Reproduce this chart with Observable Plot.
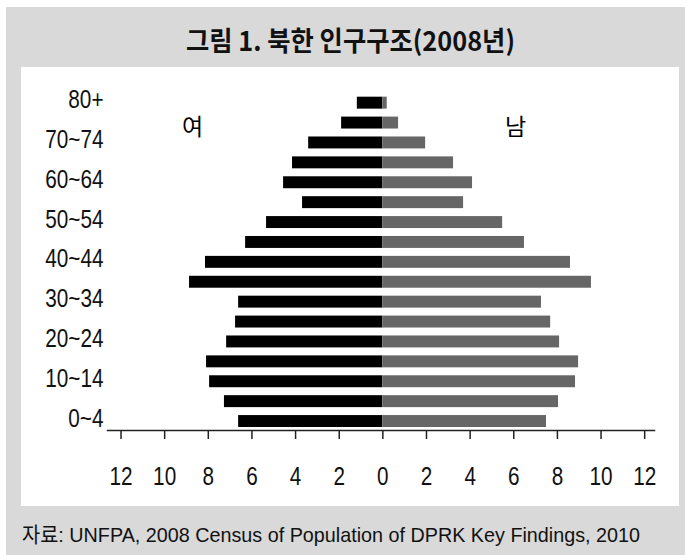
<!DOCTYPE html>
<html><head><meta charset="utf-8">
<script src="https://cdn.jsdelivr.net/npm/d3@7"></script>
<script src="https://cdn.jsdelivr.net/npm/@observablehq/plot@0.6"></script>
<style>
html,body{margin:0;padding:0;background:#fff;}
body{width:685px;height:555px;position:relative;overflow:hidden;font-family:"Liberation Sans",Arial,sans-serif;}
#box{position:absolute;left:6px;top:7px;width:679px;height:548px;background:#d9d9d9;}
#title{position:absolute;left:186px;top:23px;white-space:nowrap;font-family:"Noto Sans CJK KR",sans-serif;font-weight:bold;font-size:27px;line-height:34px;color:#111;transform-origin:left center;}
#panel{position:absolute;left:21px;top:67px;width:658px;height:439px;background:#fff;}
#panel svg{display:block;}
#caption{position:absolute;left:22px;top:520px;white-space:nowrap;font-size:21px;line-height:26px;color:#111;transform-origin:left center;}
#caption .ko{font-family:"Noto Sans CJK KR",sans-serif;}
</style>
</head><body>
<div id="box"></div>
<div id="title">그림 1. 북한 인구구조(2008년)</div>
<div id="panel"></div>
<div id="caption"><span class="ko">자료</span>: UNFPA, 2008 Census of Population of DPRK Key Findings, 2010</div>
<script>
// Age groups (bottom to top)
const ages = ["0~4","5~9","10~14","15~19","20~24","25~29","30~34","35~39","40~44","45~49","50~54","55~59","60~64","65~69","70~74","75~79","80+"];
// Female (여) share, %
const female = [6.61, 7.26, 7.94, 8.08, 7.16, 6.75, 6.61, 8.86, 8.13, 6.29, 5.33, 3.68, 4.55, 4.14, 3.40, 1.89, 1.17];
// Male (남) share, %
const male = [7.50, 8.05, 8.83, 8.97, 8.10, 7.69, 7.27, 9.56, 8.60, 6.49, 5.49, 3.70, 4.11, 3.24, 1.96, 0.72, 0.20];
// Labelled y ticks
const yTicks = ["80+","70~74","60~64","50~54","40~44","30~34","20~24","10~14","0~4"];
// x tick values
const xTicks = [-12,-10,-8,-6,-4,-2,0,2,4,6,8,10,12];
// Sex labels
const sexLabels = [{label:"여", x:-8.72, age:"75~79"}, {label:"남", x:6.08, age:"75~79"}];

const rows = ages.map((a,i)=>({age:a, female:female[i], male:male[i]}));

const chart = Plot.plot({
  width: 658,
  height: 439,
  marginLeft: 86,
  marginRight: 25,
  marginTop: 26.7,
  marginBottom: 76,
  style: {fontFamily: '"Liberation Sans", Arial, sans-serif', fontSize: "25px", color: "#111", background: "transparent"},
  x: {domain: [-12.62, 12.45]},
  y: {domain: ages.slice().reverse(), paddingInner: 0.4, paddingOuter: 0.15, round: false},
  marks: [
    Plot.barX(rows, {x1: 0, x2: d => -d.female, y: "age", fill: "#000"}),
    Plot.barX(rows, {x1: 0, x2: "male", y: "age", fill: "#666666"}),
    Plot.frame({anchor: "bottom", stroke: "#222", strokeWidth: 1.5}),
    Plot.axisX({ticks: xTicks, tickFormat: d => Math.abs(d), tickSize: 9, tickPadding: 28, stroke: "#222", strokeWidth: 1.5, fontSize: 25, label: null}),
    Plot.axisY({ticks: yTicks, tickSize: 0, tickPadding: 4, dy: -3, fontSize: 25, label: null}),
    Plot.text(sexLabels, {x: "x", y: "age", text: "label", dy: 5, fontSize: 23, fontFamily: '"Noto Sans CJK KR", sans-serif', fill: "#000"})
  ]
});
document.getElementById("panel").appendChild(chart);

// condense the tick labels like the reference's narrow type
chart.querySelectorAll('g[aria-label="x-axis tick label"] text, g[aria-label="y-axis tick label"] text').forEach(t => {
  const len = t.getComputedTextLength();
  t.setAttribute("textLength", (len * 0.83).toFixed(1));
  t.setAttribute("lengthAdjust", "spacingAndGlyphs");
});

// fit title and caption widths to the reference's condensed type
function fit(id, w){
  const el = document.getElementById(id);
  const r = el.getBoundingClientRect().width;
  el.style.transform = `scaleX(${w/r})`;
}
fit("title", 329);
fit("caption", 618);
</script>
</body></html>
